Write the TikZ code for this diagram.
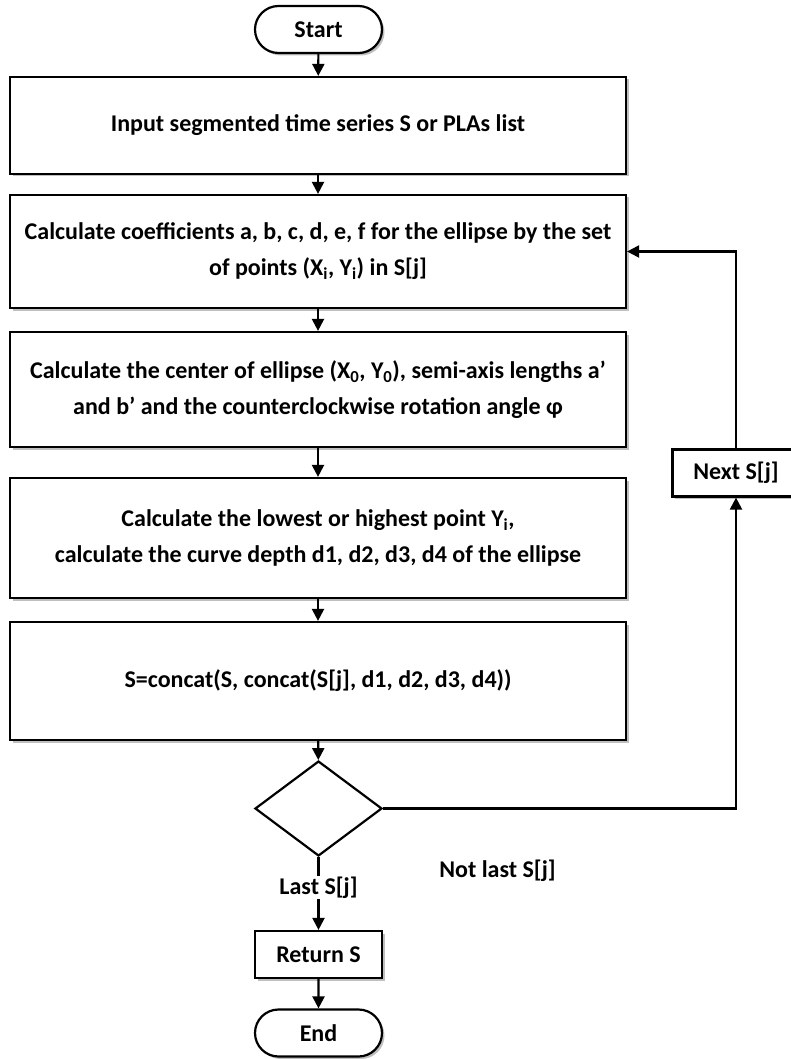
\documentclass[tikz,border=0pt]{standalone}
\usepackage{fontspec}
\setmainfont{Carlito}
\usetikzlibrary{shapes.geometric,shapes.misc,arrows.meta,shadows}
\begin{document}
\begin{tikzpicture}[x=1pt,y=-1pt,
  line width=2.2pt,
  font=\bfseries\fontsize{24}{36}\selectfont,
  shad/.style={drop shadow={shadow xshift=2.5pt,shadow yshift=-2.5pt,fill=black,opacity=0.25}},
  procbox/.style={draw, fill=white, shad, minimum width=616pt, align=center, inner sep=0pt},
  smallbox/.style={draw, fill=white, shad, minimum width=127pt, minimum height=47pt, inner sep=0pt},
  term/.style={rounded rectangle, draw, fill=white, shad, minimum width=127pt, minimum height=47pt, inner sep=0pt},
  decis/.style={diamond, draw, fill=white, minimum width=127pt, minimum height=95pt, inner sep=0pt},
  arr/.style={-{Triangle[width=12pt,length=12pt]}},
  lbl/.style={inner sep=1pt}
]
\useasboundingbox (0,0) rectangle (791,1059);
\fill[white] (0,0) rectangle (791,1059);

\node[term] (start) at (318.5,29.5) {Start};
\node[procbox, minimum height=97pt] (b1) at (318,125.5) {Input segmented time series S or PLAs list};
\node[procbox, minimum height=113pt] (b2) at (318,251.5) {Calculate coefficients a, b, c, d, e, f for the ellipse by the set\\ of points (X\textsubscript{i}, Y\textsubscript{i}) in S[j]};
\node[procbox, minimum height=115pt] (b3) at (318,389.5) {Calculate the center of ellipse (X\textsubscript{0}, Y\textsubscript{0}), semi-axis lengths a’\\ and b’ and the counterclockwise rotation angle φ};
\node[procbox, minimum height=120pt] (b4) at (318,538) {Calculate the lowest or highest point Y\textsubscript{i},\\ calculate the curve depth d1, d2, d3, d4 of the ellipse};
\node[procbox, minimum height=118pt] (b5) at (318,681) {S=concat(S, concat(S[j], d1, d2, d3, d4))};
\node[decis] (dec) at (318.5,808.5) {};
\node[smallbox] (ret) at (318.5,954.5) {Return S};
\node[term] (end) at (318.5,1033) {End};
\node[smallbox] (nxt) at (736,473) {Next S[j]};
\node[lbl] (notlast) at (497.5,871) {Not last S[j]};

\draw[arr] (start) -- (b1);
\draw[arr] (b1) -- (b2);
\draw[arr] (b2) -- (b3);
\draw[arr] (b3) -- (b4);
\draw[arr] (b4) -- (b5);
\draw[arr] (b5) -- (dec);
\draw[arr] (dec.south) -- node[pos=0.42, fill=white, lbl] {Last S[j]} (ret.north);
\draw[arr] (ret) -- (end);
\draw[arr] (dec.east) -| (nxt.south);
\draw[arr] (nxt.north) |- (b2.east);
\end{tikzpicture}
\end{document}
